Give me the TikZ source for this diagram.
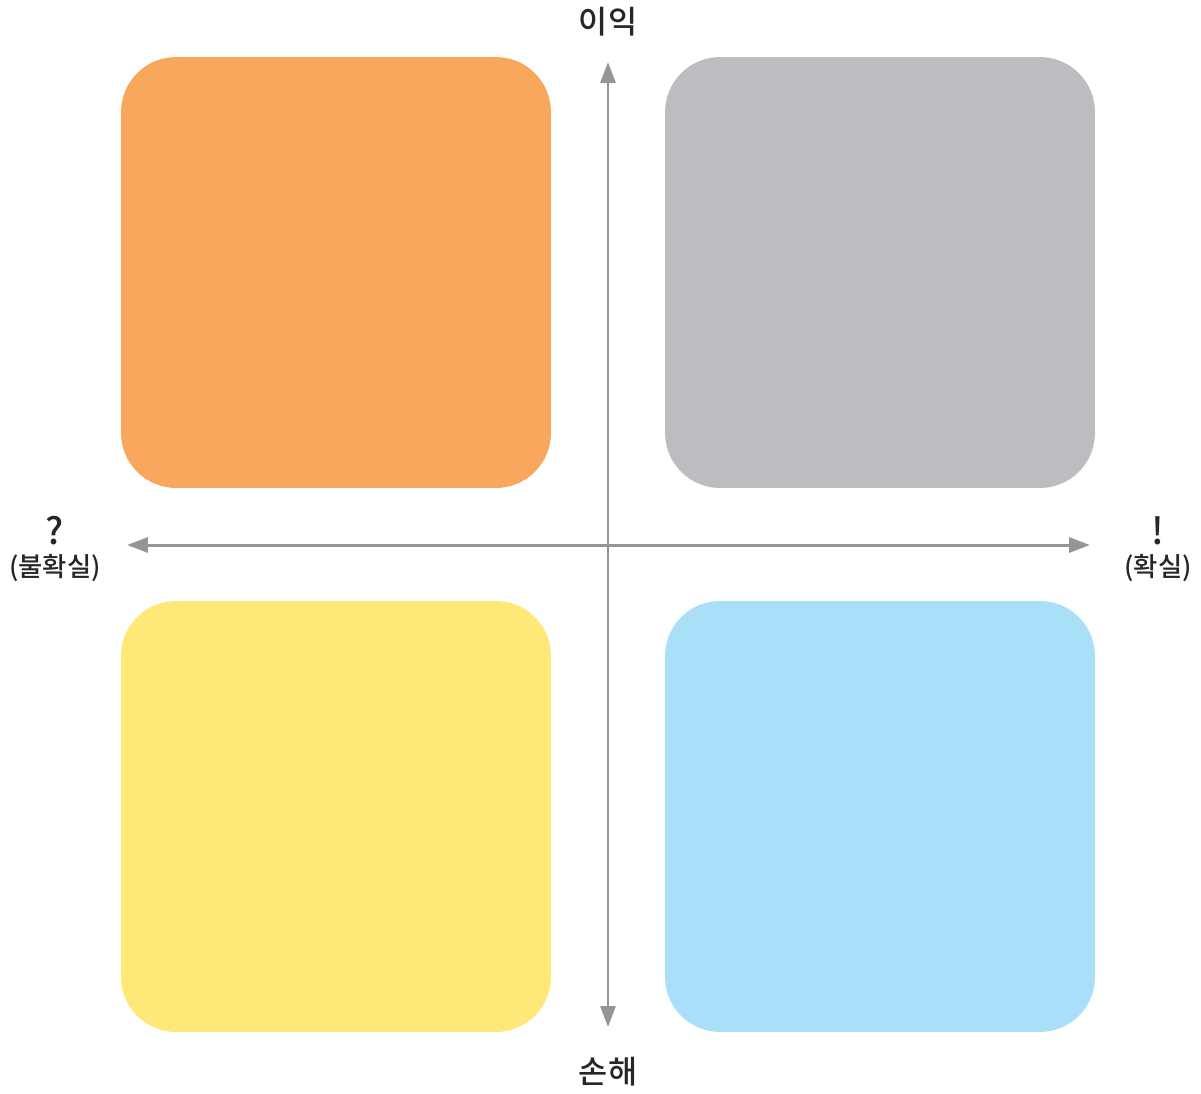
\documentclass[tikz,border=0pt]{standalone}
\usepackage{fontspec}
\setmainfont{Noto Sans CJK KR Medium}
\usepackage{xcolor}
\usepackage{tikz}
\usetikzlibrary{arrows.meta, positioning}

\definecolor{quadorange}{HTML}{F8A75C}
\definecolor{quadgray}{HTML}{BCBDC1}
\definecolor{quadyellow}{HTML}{FEE978}
\definecolor{quadblue}{HTML}{AADFF9}
\definecolor{axisgray}{HTML}{939598}

\begin{document}
\begin{tikzpicture}[
    x=0.02cm, y=-0.02cm,
    quad/.style={rectangle, rounded corners=1.1cm, minimum width=8.6cm,
                minimum height=8.62cm, inner sep=0pt, draw=none},
    axis/.style={{Triangle[length=0.42cm, width=0.3cm]}-{Triangle[length=0.42cm, width=0.3cm]},
                draw=axisgray, line width=1.7pt},
    lbl/.style={font=\fontsize{18}{20}\selectfont, text=black!85, inner sep=0pt},
    lblbig/.style={font=\fontsize{21}{23}\selectfont, text=black!85, inner sep=0pt},
    lblsmall/.style={font=\fontsize{15}{17}\selectfont, text=black!85, inner sep=0pt}
]
\useasboundingbox (0,0) rectangle (1201,1093);

% === QUADRANTS ===
\node[quad, fill=quadorange] (q1) at (336,272.5) {};
\node[quad, fill=quadgray] (q2) at (880,272.5) {};
\node[quad, fill=quadyellow] (q3) at (336,816.5) {};
\node[quad, fill=quadblue] (q4) at (880,816.5) {};

% === AXES ===
\coordinate (top) at (608,62);
\coordinate (bottom) at (608,1027);
\coordinate (left) at (127,545);
\coordinate (right) at (1090,545);
\draw[axis] (bottom) -- (top);
\draw[axis] (left) -- (right);

% === LABELS ===
\node[lbl, above=0.52cm of top] (gain) {이익};
\node[lbl, below=0.6cm of bottom] (loss) {손해};
\node[lblsmall] (unsure) at (55,568) {(불확실)};
\node[lblbig, above=0.18cm of unsure] (qmark) {?};
\node[lblsmall] (sure) at (1158,568) {(확실)};
\node[lblbig, above=0.18cm of sure] (excl) {!};

\end{tikzpicture}
\end{document}
